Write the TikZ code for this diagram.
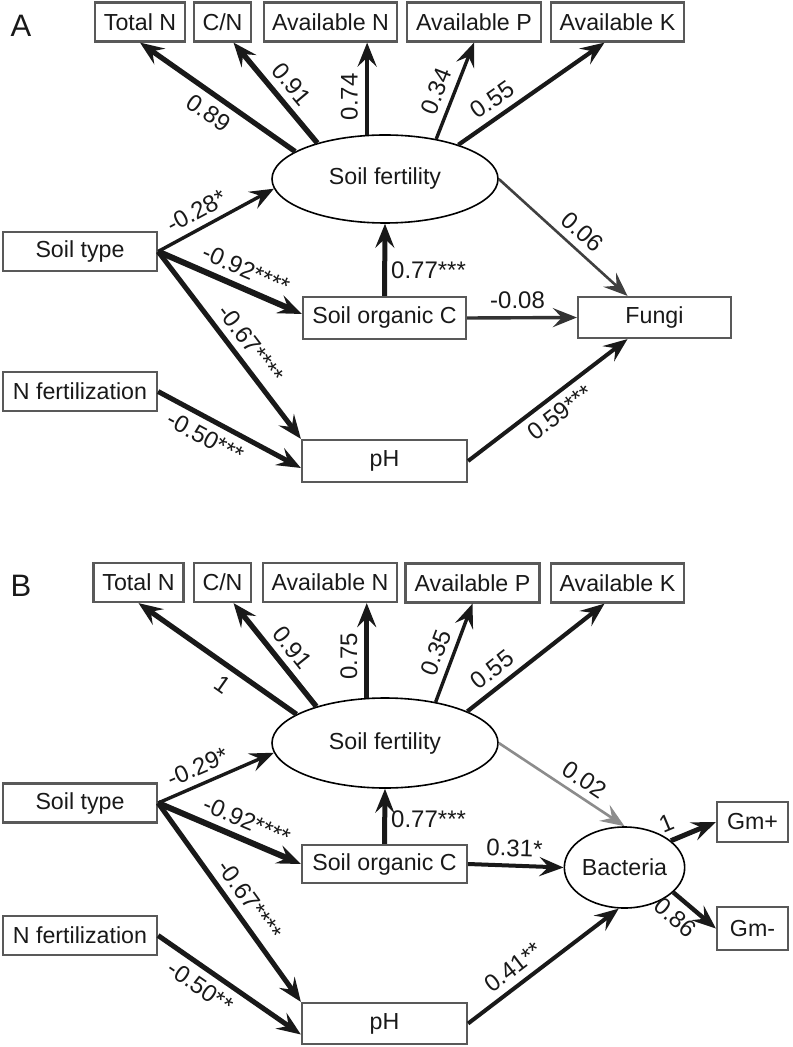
\documentclass[tikz,border=0pt]{standalone}
\usepackage{fontspec}
\setmainfont{Liberation Sans}
\usetikzlibrary{shapes.geometric,arrows.meta}

\begin{document}
\begin{tikzpicture}[x=0.5pt,y=-0.5pt,
	var/.style={draw=black!65,line width=1.1pt,inner sep=0pt,minimum height=19.5pt,font=\fontsize{11.6}{13}\selectfont,text=black!90},
	lat/.style={ellipse,draw=black,line width=0.8pt,inner sep=0pt,font=\fontsize{11.6}{13}\selectfont,text=black!90},
	eff/.style={draw=black!90,line width=#1,-{Stealth[length=12pt,width=9.5pt,inset=4.5pt]}},
	coef/.style={font=\fontsize{12}{14}\selectfont,text=black!90,sloped,inner sep=3.5pt},
	panel/.style={font=\fontsize{15.5}{18}\selectfont,text=black!90}]
	\useasboundingbox (0,0) rectangle (792,1047);

	% panel A
	\node[panel] (labA) at (21,25.5) {A};
	\node[var,minimum width=45pt] (totNA) at (140,22) {Total N};
	\node[var,minimum width=28.5pt] (cnA) at (222.5,22) {C/N};
	\node[var,minimum width=66.5pt] (avNA) at (330.5,22) {Available N};
	\node[var,minimum width=67pt] (avPA) at (474,22) {Available P};
	\node[var,minimum width=66.5pt] (avKA) at (617.5,22) {Available K};
	\node[lat,minimum width=113pt,minimum height=44pt] (sfA) at (385,179) {Soil fertility};
	\node[var,minimum width=77pt] (stA) at (80,251.5) {Soil type};
	\node[var,minimum width=81.5pt,minimum height=21pt] (socA) at (384.5,318) {Soil organic C};
	\node[var,minimum width=76.5pt,minimum height=20.5pt] (fungiA) at (654.5,317.5) {Fungi};
	\node[var,minimum width=77pt] (nfA) at (80,391.5) {N fertilization};
	\node[var,minimum width=82.5pt,minimum height=21pt] (phA) at (384.5,461) {pH};

	\draw[eff=2.6pt] (sfA.163) -- node[coef,pos=0.49,below]{0.89} (totNA.south);
	\draw[eff=2.7pt] (sfA.152) -- node[coef,pos=0.47,above]{0.91} ([xshift=5.5pt]cnA.south);
	\draw[eff=2.3pt] (sfA.112) -- node[coef,pos=0.41,above]{0.74} (sfA.112 |- avNA.south);
	\draw[eff=1.7pt] (sfA.38) -- node[coef,pos=0.43,above]{0.34} (avPA.south);
	\draw[eff=2.1pt] (sfA.25) -- node[coef,pos=0.3,above]{0.55} ([xshift=-6.5pt]avKA.south);

	\draw[eff=1.7pt] (stA.east) -- node[coef,pos=0.4,above]{-0.28*} (sfA.185);
	\draw[eff=3pt] (stA.east) -- node[coef,pos=0.56,above]{-0.92****} ([yshift=2pt]socA.west);
	\draw[eff=2.5pt] (stA.east) -- node[coef,pos=0.55,above]{-0.67****} (phA.north west);
	\draw[eff=2.5pt] (nfA.east) -- node[coef,pos=0.39,below]{-0.50***} ([yshift=-3.5pt]phA.west);
	\draw[eff=2.5pt] (socA.north) -- node[coef,sloped=false,inner sep=2pt,pos=0.36,right]{0.77***} (sfA.south);
	\draw[eff=1.7pt,draw=black!80] (socA.east) -- node[coef,pos=0.46,above]{-0.08} (fungiA.west);
	\draw[eff=1.3pt,draw=black!75] (sfA.east) -- node[coef,pos=0.56,above]{0.06} ([xshift=-13.5pt]fungiA.north);
	\draw[eff=2pt] (phA.east) -- node[coef,pos=0.51,below]{0.59***} ([xshift=-13.5pt]fungiA.south);

	% panel B
	\node[panel] (labB) at (21,586) {B};
	\node[var,minimum width=45pt] (totNB) at (138.5,582.5) {Total N};
	\node[var,minimum width=28.5pt] (cnB) at (222.5,582.5) {C/N};
	\node[var,minimum width=67pt] (avNB) at (330,582.5) {Available N};
	\node[var,minimum width=67pt] (avPB) at (472.5,583) {Available P};
	\node[var,minimum width=66.5pt] (avKB) at (617.5,583) {Available K};
	\node[lat,minimum width=113pt,minimum height=45pt] (sfB) at (385,743) {Soil fertility};
	\node[var,minimum width=77pt] (stB) at (80,803) {Soil type};
	\node[var,minimum width=82.5pt,minimum height=19pt] (socB) at (384.5,864) {Soil organic C};
	\node[var,minimum width=77pt] (nfB) at (80,935.5) {N fertilization};
	\node[var,minimum width=82.5pt,minimum height=20.5pt] (phB) at (384.5,1023.5) {pH};
	\node[lat,minimum width=59.5pt,minimum height=40.5pt] (bacB) at (624.5,867.5) {Bacteria};
	\node[var,minimum width=35.5pt,minimum height=20pt] (gmPB) at (752.5,822) {Gm+};
	\node[var,minimum width=35.5pt,minimum height=21.5pt] (gmMB) at (752.5,928.5) {Gm-};

	\draw[eff=2.6pt] (sfB.162) -- node[coef,pos=0.4,below]{1} (totNB.south);
	\draw[eff=2.7pt] (sfB.152) -- node[coef,pos=0.46,above]{0.91} ([xshift=5.5pt]cnB.south);
	\draw[eff=2.3pt] (sfB.112) -- node[coef,pos=0.44,above]{0.75} (sfB.112 |- avNB.south);
	\draw[eff=1.7pt] (sfB.39) -- node[coef,pos=0.44,above]{0.35} (avPB.south);
	\draw[eff=2.1pt] (sfB.21) -- node[coef,pos=0.26,above]{0.55} ([xshift=-6.5pt]avKB.south);

	\draw[eff=1.7pt] (stB.east) -- node[coef,pos=0.4,above]{-0.29*} (sfB.185);
	\draw[eff=3pt] (stB.east) -- node[coef,pos=0.57,above]{-0.92****} (socB.west);
	\draw[eff=2.5pt] (stB.east) -- node[coef,pos=0.54,above]{-0.67****} (phB.north west);
	\draw[eff=2.5pt] (nfB.east) -- node[coef,pos=0.37,below]{-0.50**} ([yshift=-5.5pt]phB.west);
	\draw[eff=2.5pt] (socB.north) -- node[coef,sloped=false,inner sep=2pt,pos=0.45,right]{0.77***} (sfB.south);
	\draw[eff=2pt] (socB.east) -- node[coef,pos=0.48,above]{0.31*} (bacB.west);
	\draw[eff=1.3pt,draw=black!45] (sfB.east) -- node[coef,pos=0.61,above]{0.02} (bacB.north);
	\draw[eff=2pt] (phB.east) -- node[coef,pos=0.37,above]{0.41**} (bacB.262);
	\draw[eff=2.5pt] (bacB.30) -- node[coef,pos=0.05,above]{1} (gmPB.west);
	\draw[eff=2.2pt] (bacB.-27) -- node[coef,pos=0.32,below]{0.86} (gmMB.west);
\end{tikzpicture}
\end{document}
